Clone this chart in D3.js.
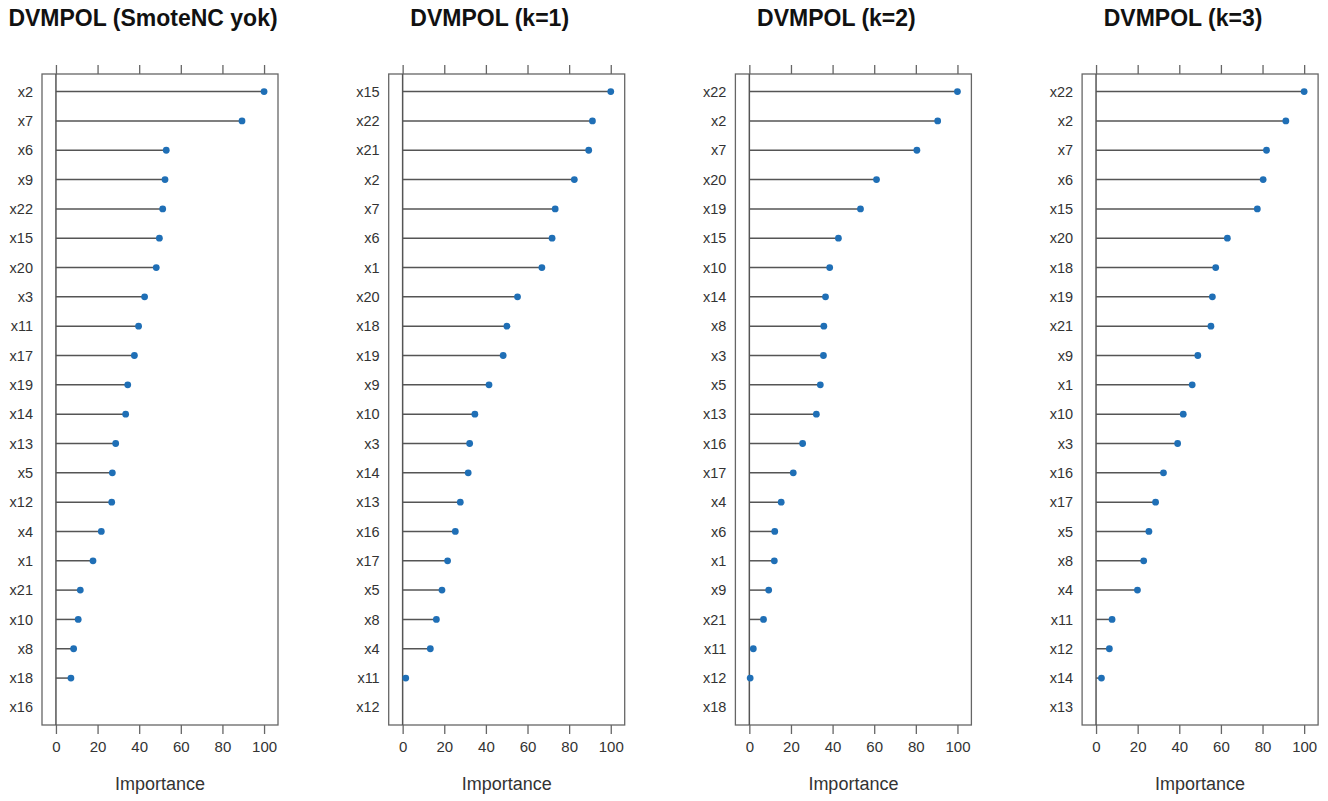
<!DOCTYPE html>
<html>
<head>
<meta charset="utf-8">
<script src="https://cdn.jsdelivr.net/npm/d3@7"></script>
<style>
  body { margin: 0; background: #fff; }
  svg { display: block; font-family: "Liberation Sans", Arial, sans-serif; }
</style>
</head>
<body>
<div id="chart"></div>
<script>
// variable importance, four models, listed top to bottom (null = no point drawn)
const titles = ["DVMPOL (SmoteNC yok)", "DVMPOL (k=1)", "DVMPOL (k=2)", "DVMPOL (k=3)"];

const vars0 = ["x2","x7","x6","x9","x22","x15","x20","x3","x11","x17","x19","x14","x13","x5","x12","x4","x1","x21","x10","x8","x18","x16"];
const vals0 = [100, 89.4, 53.0, 52.4, 51.3, 49.7, 48.2, 42.6, 39.7, 37.7, 34.5, 33.5, 28.7, 27.1, 26.8, 21.8, 17.8, 11.7, 10.7, 8.5, 7.2, null];

const vars1 = ["x15","x22","x21","x2","x7","x6","x1","x20","x18","x19","x9","x10","x3","x14","x13","x16","x17","x5","x8","x4","x11","x12"];
const vals1 = [100, 91.2, 89.4, 82.5, 73.3, 71.8, 66.9, 55.2, 50.1, 48.3, 41.5, 34.7, 32.2, 31.5, 27.7, 25.3, 21.6, 18.9, 16.2, 13.3, 1.5, null];

const vars2 = ["x22","x2","x7","x20","x19","x15","x10","x14","x8","x3","x5","x13","x16","x17","x4","x6","x1","x9","x21","x11","x12","x18"];
const vals2 = [100, 90.5, 80.5, 61.1, 53.4, 42.8, 38.6, 36.6, 35.8, 35.6, 34.1, 32.2, 25.6, 21.1, 15.3, 12.2, 12.0, 9.3, 6.8, 1.9, 0.4, null];

const vars3 = ["x22","x2","x7","x6","x15","x20","x18","x19","x21","x9","x1","x10","x3","x16","x17","x5","x8","x4","x11","x12","x14","x13"];
const vals3 = [100, 91.2, 81.9, 80.3, 77.5, 63.1, 57.5, 55.9, 55.2, 48.9, 46.2, 41.9, 39.2, 32.4, 28.6, 25.4, 22.9, 19.9, 7.7, 6.4, 2.6, null];

const xTicks = [0, 20, 40, 60, 80, 100];

const panels = [[vars0, vals0], [vars1, vals1], [vars2, vals2], [vars3, vals3]];

const width = 1328, height = 801;
const frameW = 236, frameTop = 74, frameBottom = 725;
const firstLeft = 42, panelStep = 346.7;
const frameColor = "#666", segColor = "#555", dotColor = "#1f6fb6", textColor = "#333";

const svg = d3.select("#chart").append("svg")
    .attr("width", width)
    .attr("height", height);

panels.forEach(([vars, vals], i) => {
    const left = firstLeft + i * panelStep;
    const g = svg.append("g");

    const x = d3.scaleLinear().domain([-6.7, 106.7]).range([left, left + frameW]);
    const y = d3.scalePoint().domain(vars).range([frameTop, frameBottom]).padding(0.6);

    // title
    g.append("text")
        .attr("x", left + 101)
        .attr("y", 26)
        .attr("text-anchor", "middle")
        .attr("font-size", 23)
        .attr("font-weight", "bold")
        .attr("fill", "#111")
        .text(titles[i]);

    // frame
    g.append("rect")
        .attr("x", left).attr("y", frameTop)
        .attr("width", frameW).attr("height", frameBottom - frameTop)
        .attr("fill", "none")
        .attr("stroke", frameColor)
        .attr("stroke-width", 1.3);

    // top ticks, no labels
    g.append("g")
        .attr("transform", `translate(0,${frameTop})`)
        .call(d3.axisTop(x).tickValues(xTicks).tickSize(9).tickFormat(""))
        .call(a => a.select(".domain").remove())
        .call(a => a.selectAll("line").attr("stroke", frameColor).attr("stroke-width", 1.3));

    // bottom axis
    g.append("g")
        .attr("transform", `translate(0,${frameBottom})`)
        .call(d3.axisBottom(x).tickValues(xTicks).tickSize(9).tickPadding(7))
        .call(a => a.select(".domain").remove())
        .call(a => a.selectAll("line").attr("stroke", frameColor).attr("stroke-width", 1.3))
        .call(a => a.selectAll("text")
            .attr("font-size", 15)
            .attr("fill", textColor)
            .attr("font-family", "Liberation Sans, Arial, sans-serif"));

    // zero line
    g.append("line")
        .attr("x1", x(0)).attr("x2", x(0))
        .attr("y1", frameTop).attr("y2", frameBottom)
        .attr("stroke", segColor)
        .attr("stroke-width", 1.5);

    // y labels
    g.append("g")
        .selectAll("text")
        .data(vars)
        .join("text")
            .attr("x", left - 9)
            .attr("y", d => y(d))
            .attr("dy", "0.35em")
            .attr("text-anchor", "end")
            .attr("font-size", 14.5)
            .attr("fill", textColor)
            .text(d => d);

    const pts = vars.map((v, j) => ({ v, val: vals[j] })).filter(d => d.val !== null);

    // stems
    g.append("g")
        .selectAll("line")
        .data(pts)
        .join("line")
            .attr("x1", x(0))
            .attr("x2", d => x(d.val))
            .attr("y1", d => y(d.v))
            .attr("y2", d => y(d.v))
            .attr("stroke", segColor)
            .attr("stroke-width", 1.5);

    // dots
    g.append("g")
        .selectAll("circle")
        .data(pts)
        .join("circle")
            .attr("cx", d => x(d.val))
            .attr("cy", d => y(d.v))
            .attr("r", 3.4)
            .attr("fill", dotColor);

    // x label
    g.append("text")
        .attr("x", left + frameW / 2)
        .attr("y", 790)
        .attr("text-anchor", "middle")
        .attr("font-size", 18)
        .attr("fill", textColor)
        .text("Importance");
});
</script>
</body>
</html>
